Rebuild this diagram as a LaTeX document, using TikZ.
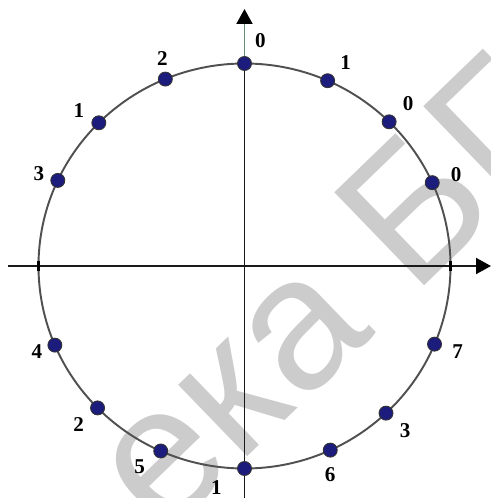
\documentclass[tikz,border=0pt]{standalone}
\usepackage{fontspec}
\setmainfont{Liberation Serif}
\newfontfamily\wmfont{Liberation Sans}
\usepackage{xcolor}
\usetikzlibrary{arrows.meta, calc}

\definecolor{dotblue}{RGB}{28,28,125}
\definecolor{axisgreen}{RGB}{105,140,120}
\definecolor{ringgray}{RGB}{80,80,80}

\tikzset{
  axis/.style={line width=1.1pt, draw=black!90},
  tip/.style={-{Triangle[length=0.3cm, width=0.32cm, color=black]}},
  ring/.style={line width=1.1pt, draw=ringgray},
  dot/.style={circle, draw=black!80, line width=0.5pt, fill=dotblue, minimum size=0.28cm, inner sep=0pt},
  digit/.style={font=\fontsize{12}{14}\selectfont\bfseries, inner sep=0pt},
  watermark/.style={text=black!20, font=\wmfont\fontsize{107}{107}\selectfont, inner sep=0pt}
}

\begin{document}
\begin{tikzpicture}[x=0.02cm, y=0.02cm]
    \useasboundingbox (-244.5,-232) rectangle (246.5,266);

    % Watermark
    \node[watermark, rotate=44, anchor=base west] (wm) at (-81,-272) {ека БГ};

    % Axes
    \coordinate (xl) at (-236,0);
    \coordinate (xr) at (246.5,0);
    \coordinate (ybot) at (0,-232);
    \coordinate (ymid) at (0,202.5);
    \coordinate (ytop) at (0,257);
    \draw[axis, tip] (xl) -- (xr);
    \draw[axis] (ybot) -- (ymid);
    \draw[axis, draw=axisgreen, tip] (ymid) -- (ytop);

    % Circle with ticks
    \draw[ring] (0,0) ellipse [x radius=206, y radius=202.5];
    \draw[line width=2.2pt] (-206,-5) -- (-206,5);
    \draw[line width=2.2pt] (206,-5) -- (206,5);

    % Points and digits
    \foreach \ang/\dig/\dx/\dy [count=\i] in {90/0/16/23, 66.2/1/18/18, 45.4/0/19/18,
        24.3/0/24/8, -22.7/7/23/-7, -46.6/3/19/-17, -65.4/6/0/-25, -90/1/-28/-19,
        -114/5/-21/-16, -135.5/2/-19/-17, -157/4/-18/-6, 155/3/-19/7,
        135/1/-20/12, 112.6/2/-3/21} {
        \node[dot] (p\i) at (\ang:206 and 202.5) {};
        \node[digit] (d\i) at ($(p\i)+(\dx,\dy)$) {\dig};
    }
\end{tikzpicture}
\end{document}
